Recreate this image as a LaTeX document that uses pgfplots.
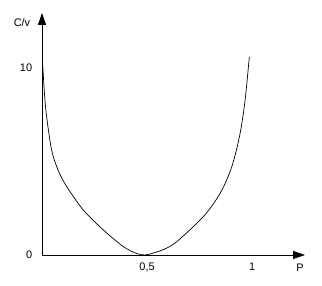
\documentclass[border=0pt]{standalone}
\usepackage{pgfplots}
\pgfplotsset{compat=1.18}
\usepackage{fontspec}
\setmainfont{Liberation Sans}
\usetikzlibrary{arrows.meta}
\begin{document}
\fontsize{11}{13}\selectfont
\begin{tikzpicture}[x=1bp,y=1bp]
\path[use as bounding box] (0,0) rectangle (322,286);
\begin{axis}[
  at={(42bp,31bp)}, anchor=south west,
  scale only axis,
  width=263bp, height=242bp,
  xmin=0, xmax=1.252, ymin=0, ymax=12.94,
  axis lines=left,
  axis line style={line width=0.8bp, -{Triangle[length=12bp,width=8bp]}},
  xtick={0.5,1}, xticklabels={{0,5},{1}},
  ytick={0,10},
  major tick length=0,
  /pgf/number format/assume math mode=true,
  tick label style={font=\fontsize{11}{13}\selectfont},
  xticklabel style={yshift=-4bp},
  yticklabel style={xshift=-6bp},
  clip=false,
]
\addplot[black, line width=0.7bp, smooth, tension=0.5] coordinates {
(0.003,10.2) (0.012,8.6) (0.022,7.4) (0.046,5.6) (0.078,4.5) (0.118,3.65)
(0.197,2.4) (0.292,1.34) (0.387,0.45) (0.45,0.08) (0.49,0.0) (0.514,0.05)
(0.58,0.3) (0.641,0.71) (0.768,2.05) (0.848,3.3) (0.903,4.7) (0.943,6.5)
(0.967,8.3) (0.987,10.6)
};
\end{axis}
\node[font=\fontsize{11}{13}\selectfont] at (22,263) {C/v};
\node[font=\fontsize{11}{13}\selectfont] at (300,18) {P};
\end{tikzpicture}
\end{document}
